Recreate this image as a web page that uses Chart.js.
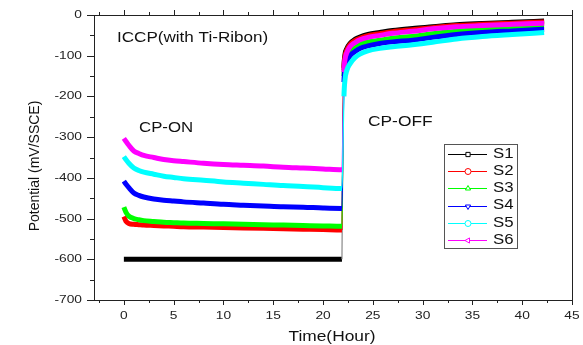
<!DOCTYPE html>
<html>
<head>
<meta charset="utf-8">
<script src="https://cdn.jsdelivr.net/npm/chart.js@4/dist/chart.umd.min.js"></script>
<style>
  body { margin: 0; background: #fff; }
  #wrap { width: 583px; height: 345px; }
</style>
</head>
<body>
<div id="wrap"><canvas id="my-chart" width="583" height="345"></canvas></div>
<script>
let hours = [0, 0.2, 0.5, 1, 1.5, 2, 3, 4, 5, 6, 8, 10, 12, 14, 16, 18, 20, 21.9,
  22.0, 22.1, 22.2, 22.4, 22.7, 23.2, 23.7, 24.5, 25.7, 27, 29, 31, 33.4, 36, 39, 42.2];

let s1 = [-600, -600, -600, -600, -600, -600, -600, -600, -600, -600, -600, -600, -600, -600, -600, -600, -600, -600,
  -250, -130, -98, -82, -70, -60, -54, -48, -43, -38, -33, -29, -24, -21, -18, -15];
let s2 = [-495, -506, -512, -514, -515, -516, -517, -518, -519, -520, -521, -522, -523, -524, -525, -526, -527, -528,
  -260, -135, -103, -86, -73, -63, -57, -51, -46, -41, -36, -31, -26, -23, -20, -17];
let s3 = [-472, -484, -494, -500, -503, -505, -507, -509, -510, -511, -512, -513, -514, -515, -516, -517, -518, -519,
  -280, -150, -120, -102, -88, -77, -70, -66, -62, -57, -53, -46, -40, -35, -31, -27];
let s4 = [-408, -415, -424, -437, -443, -447, -452, -455, -457, -459, -462, -465, -467, -469, -471, -472, -474, -475,
  -300, -165, -135, -115, -100, -90, -82, -76, -70, -66, -62, -55, -48, -43, -39, -35];
let s5 = [-348, -355, -364, -376, -382, -386, -391, -396, -399, -402, -406, -410, -413, -416, -419, -421, -424, -426,
  -330, -200, -160, -135, -120, -105, -96, -88, -82, -78, -73, -67, -59, -53, -48, -43];
let s6 = [-303, -310, -320, -334, -340, -345, -350, -355, -358, -360, -364, -367, -369, -371, -374, -376, -378, -380,
  -270, -140, -110, -92, -78, -68, -61, -55, -50, -45, -40, -34, -29, -26, -23, -20];

let seriesNames = ["S1", "S2", "S3", "S4", "S5", "S6"];
let seriesValues = [s1, s2, s3, s4, s5, s6];
let colors = ["#000000", "#ff0000", "#00ff00", "#0000ff", "#00ffff", "#ff00ff"];
let markers = [
  { pointStyle: 'rect', rotation: 0 },
  { pointStyle: 'circle', rotation: 0 },
  { pointStyle: 'triangle', rotation: 0 },
  { pointStyle: 'triangle', rotation: 180 },
  { pointStyle: 'circle', rotation: 0 },
  { pointStyle: 'triangle', rotation: -90 }
];
let drawOrder = [6, 5, 4, 3, 1, 2];

let xTickLabels = [0, 5, 10, 15, 20, 25, 30, 35, 40, 45];
let yTickLabels = [0, -100, -200, -300, -400, -500, -600, -700];

const FONT = "'Liberation Sans', Arial, sans-serif";

function stretchText(c, text, x, y, size, align, sx) {
  c.save();
  c.font = size + "px " + FONT;
  c.textAlign = align;
  c.textBaseline = 'middle';
  c.translate(x, y);
  c.scale(sx, 1);
  c.fillText(text, 0, 0);
  c.restore();
}

// frame, ticks, labels, notes and legend drawn by hand
const extras = {
  id: 'extras',
  afterDatasetsDraw(chart) {
    const c = chart.ctx;
    const a = chart.chartArea;
    const xs = chart.scales.x, ys = chart.scales.y;
    c.save();
    c.strokeStyle = '#222';
    c.lineWidth = 1;
    c.strokeRect(a.left + 0.5, a.top + 0.5, a.right - a.left, a.bottom - a.top);

    c.beginPath();
    xTickLabels.forEach(v => {
      let px = Math.round(xs.getPixelForValue(v)) + 0.5;
      c.moveTo(px, a.bottom); c.lineTo(px, a.bottom + 5);
      c.moveTo(px, a.top); c.lineTo(px, a.top - 5);
      let m = Math.round(xs.getPixelForValue(v - 2.5)) + 0.5;
      c.moveTo(m, a.bottom); c.lineTo(m, a.bottom + 3);
      c.moveTo(m, a.top); c.lineTo(m, a.top - 3);
    });
    yTickLabels.forEach(v => {
      let py = Math.round(ys.getPixelForValue(v)) + 0.5;
      c.moveTo(a.left, py); c.lineTo(a.left - 7, py);
      if (v > -700) {
        let m = Math.round(ys.getPixelForValue(v - 50)) + 0.5;
        c.moveTo(a.left, m); c.lineTo(a.left - 4, m);
      }
    });
    c.stroke();

    c.fillStyle = '#222';
    xTickLabels.forEach(v => stretchText(c, String(v), xs.getPixelForValue(v), a.bottom + 16, 11, 'center', 1.25));
    yTickLabels.forEach(v => stretchText(c, String(v), a.left - 12, ys.getPixelForValue(v), 11, 'right', 1.25));

    c.fillStyle = '#111';
    stretchText(c, "Time(Hour)", 332, 337, 14, 'center', 1.24);
    c.save();
    c.translate(35, 166);
    c.rotate(-Math.PI / 2);
    stretchText(c, "Potential (mV/SSCE)", 0, 0, 14, 'center', 1.0);
    c.restore();

    stretchText(c, "ICCP(with Ti-Ribon)", 117, 38, 14, 'left', 1.22);
    stretchText(c, "CP-ON", 139, 128, 14, 'left', 1.2);
    stretchText(c, "CP-OFF", 368, 122, 14, 'left', 1.24);

    // legend box
    c.strokeStyle = '#555';
    c.strokeRect(444.5, 144.5, 73, 104);
    seriesNames.forEach((name, i) => {
      let y = 154 + i * 17.2;
      c.strokeStyle = colors[i];
      c.lineWidth = 1;
      c.beginPath();
      c.moveTo(448, Math.round(y) + 0.5);
      c.lineTo(487, Math.round(y) + 0.5);
      c.stroke();
      c.fillStyle = '#fff';
      Chart.helpers.drawPoint(c, { pointStyle: markers[i].pointStyle, rotation: markers[i].rotation, radius: 3, borderWidth: 1 }, 468, Math.round(y) + 0.5);
      c.fillStyle = '#111';
      stretchText(c, name, 493, y, 14, 'left', 1.2);
    });
    c.restore();
  }
};

let datasets = seriesValues.map((vals, i) => ({
  label: seriesNames[i],
  data: hours.map((h, k) => ({ x: h, y: vals[k] })),
  borderColor: colors[i],
  borderWidth: 5,
  pointRadius: 0,
  cubicInterpolationMode: 'monotone',
  order: drawOrder[i],
  segment: {
    borderWidth: ctx => (ctx.p0.parsed.x >= 21.9 && ctx.p1.parsed.x <= 22.1) ? 1.2 : 5,
    borderColor: ctx => (i === 0 && ctx.p0.parsed.x >= 21.9 && ctx.p1.parsed.x <= 22.1) ? '#888' : colors[i]
  }
}));

let ctx = document.getElementById('my-chart').getContext('2d');
let chart = new Chart(ctx, {
  type: 'line',
  data: { datasets: datasets },
  options: {
    responsive: false,
    animation: false,
    devicePixelRatio: 1,
    layout: { padding: { left: 94, right: 11, top: 15, bottom: 45 } },
    plugins: {
      legend: { display: false },
      tooltip: { enabled: false }
    },
    scales: {
      x: {
        type: 'linear',
        min: -3,
        max: 45,
        ticks: { display: false },
        grid: { display: false },
        border: { display: false },
        afterFit: scale => { scale.height = 0; }
      },
      y: {
        min: -700,
        max: 0,
        ticks: { display: false },
        grid: { display: false },
        border: { display: false },
        afterFit: scale => { scale.width = 0; }
      }
    }
  },
  plugins: [extras]
});
</script>
</body>
</html>
